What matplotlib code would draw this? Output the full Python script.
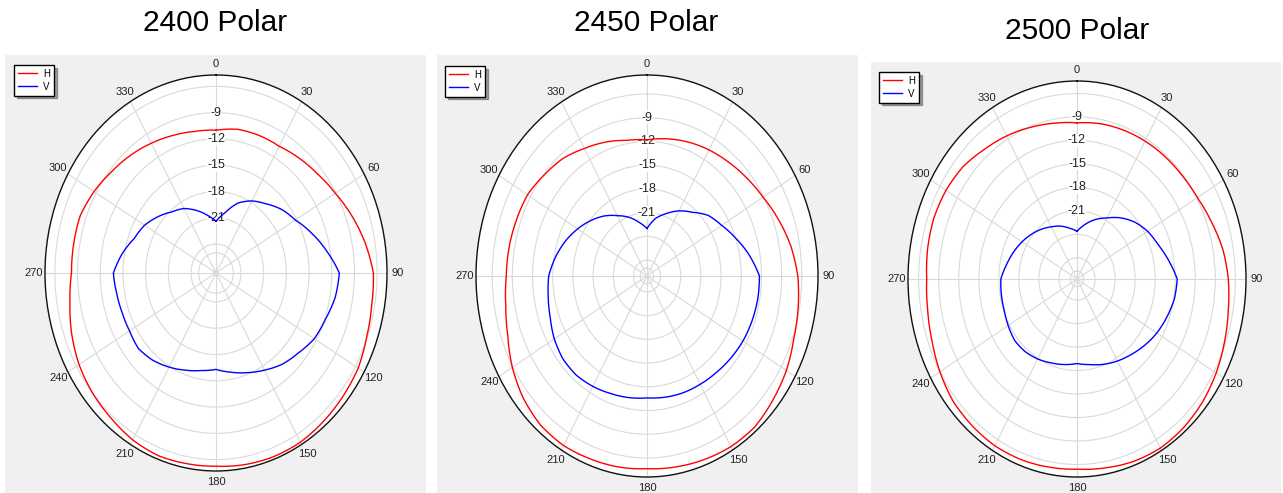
import numpy as np
import matplotlib
matplotlib.use("Agg")
import matplotlib.pyplot as plt
from matplotlib.patches import Rectangle

plt.rcParams['font.family'] = ['Liberation Sans', 'DejaVu Sans']

# angles in degrees, 0 at top, clockwise
angles = list(range(0, 360, 10))
titles = ["2400 Polar", "2450 Polar", "2500 Polar"]

# gain in dB
h_2400 = [-11.0, -10.65, -10.6, -10.6, -10.2, -9.75, -9.1, -8.2, -7.3, -6.5,
          -6.4, -6.1, -5.6, -5.4, -5.2, -5.0, -5.0, -5.1, -5.25, -5.2,
          -5.1, -5.3, -5.7, -6.0, -6.4, -7.0, -7.7, -8.2, -8.2, -8.2,
          -8.7, -9.3, -9.75, -10.2, -10.6, -10.9]
v_2400 = [-21.4, -20.3, -18.8, -17.8, -17.0, -16.0, -15.2, -13.9, -12.5, -11.0,
          -11.3, -11.9, -12.3, -13.1, -13.7, -14.5, -15.2, -15.8, -16.3, -16.0,
          -15.5, -14.9, -14.3, -13.9, -14.1, -14.1, -13.97, -13.74, -14.7, -15.8,
          -16.4, -17.3, -18.2, -18.8, -19.7, -20.6]

h_2450 = [-11.8, -11.4, -11.0, -10.6, -10.2, -9.7, -9.1, -8.2, -7.3, -6.6,
          -6.2, -5.8, -5.1, -4.6, -4.1, -4.1, -4.3, -4.5, -4.65, -4.5,
          -4.4, -4.25, -4.4, -5.0, -5.9, -7.0, -7.7, -8.1, -8.2, -8.35,
          -8.5, -9.1, -9.6, -10.4, -11.0, -11.6]
v_2450 = [-23.0, -21.6, -20.6, -19.5, -18.5, -17.1, -16.2, -15.0, -13.6, -12.3,
          -12.3, -12.4, -12.55, -12.8, -13.05, -13.2, -13.3, -13.45, -13.6, -13.4,
          -13.2, -12.9, -12.65, -12.7, -13.1, -13.7, -14.1, -14.4, -15.2, -16.1,
          -17.1, -18.1, -19.1, -20.2, -21.1, -22.1]

h_2500 = [-9.75, -9.55, -9.45, -9.35, -9.25, -9.15, -8.9, -8.3, -7.55, -7.05,
          -6.7, -6.2, -5.65, -5.2, -4.9, -4.75, -4.9, -5.2, -5.4, -5.3,
          -5.15, -5.1, -5.25, -5.45, -6.0, -6.6, -7.0, -7.2, -7.0, -6.9,
          -7.05, -7.4, -8.1, -8.6, -9.1, -9.5]
v_2500 = [-23.6, -22.6, -21.6, -20.7, -19.5, -18.4, -17.5, -16.8, -15.8, -14.7,
          -14.9, -15.4, -15.9, -16.5, -17.1, -17.6, -18.1, -18.6, -18.9, -18.6,
          -18.3, -17.9, -17.6, -17.5, -17.8, -18.1, -18.2, -18.3, -19.0, -19.6,
          -20.2, -20.8, -21.4, -22.0, -22.5, -23.1]

h_series = [h_2400, h_2450, h_2500]
v_series = [v_2400, v_2450, v_2500]

r_limits = [(-27.3, -4.7), (-29.0, -3.6), (-29.7, -4.4)]
rings = [[-27, -25, -24, -21, -18, -15, -12, -9, -6],
         [-28, -27, -24, -21, -18, -15, -12, -9, -6],
         [-28.7, -27, -24, -21, -18, -15, -12, -9, -6]]
r_labels = [-9, -12, -15, -18, -21]
theta_ticks = list(range(0, 360, 30))

# layout in pixels (x0, y0 from top, x1, y1)
W, H = 1283, 493
panel_boxes = [(5, 55, 426, 493), (437, 55, 858, 493), (871, 62, 1281, 493)]
axes_boxes = [(45, 75, 387, 471), (476, 75, 818, 477), (908, 81, 1246, 477)]
title_pos = [(215, 23), (646, 23), (1077, 31)]
legend_pos = [(14, 65), (445, 66), (879, 72)]

fig = plt.figure(figsize=(W / 100, H / 100), dpi=100)

for (x0, y0, x1, y1) in panel_boxes:
    fig.patches.append(Rectangle((x0 / W, 1 - y1 / H), (x1 - x0) / W, (y1 - y0) / H,
                                 transform=fig.transFigure, facecolor='#f0f0f0',
                                 edgecolor='none', zorder=-10))

for i in range(3):
    x0, y0, x1, y1 = axes_boxes[i]
    ax = fig.add_axes([x0 / W, 1 - y1 / H, (x1 - x0) / W, (y1 - y0) / H],
                      projection='polar')
    ax.set_aspect('auto')
    ax.set_theta_zero_location('N')
    ax.set_theta_direction(-1)

    # close the loop at 360 deg
    th = np.radians(angles + [360])
    lh, = ax.plot(th, h_series[i] + [h_series[i][0]], color='#ff0000', lw=1.0,
                  label='H', zorder=2.5)
    lv, = ax.plot(th, v_series[i] + [v_series[i][0]], color='#0000ff', lw=1.0,
                  label='V', zorder=2.5)
    # let the polar transform draw each segment as a curve, not a chord
    for ln in (lh, lv):
        ln.get_path()._interpolation_steps = 12

    ax.set_ylim(*r_limits[i])
    ax.set_yticks(rings[i])
    ax.set_yticklabels([])
    ax.set_xticks(np.radians(theta_ticks))
    ax.set_xticklabels([str(t) for t in theta_ticks], fontsize=8, color='#222222')
    ax.tick_params(axis='x', pad=-2.5)
    ax.grid(True, color='#d9d9d9', lw=0.8)
    ax.spines['polar'].set_color('#111111')
    ax.spines['polar'].set_linewidth(1.0)
    ax.set_facecolor('white')

    for v in r_labels:
        ax.text(0, v, str(v), ha='center', va='center', fontsize=9, color='#222222',
                bbox=dict(facecolor='white', edgecolor='none', pad=0.3), zorder=1.8)

    lx, ly = legend_pos[i]
    leg = ax.legend(loc='upper left', bbox_to_anchor=(lx / W, 1 - ly / H),
                    bbox_transform=fig.transFigure, borderaxespad=0, fontsize=7,
                    fancybox=False, shadow=True, framealpha=1, edgecolor='black',
                    handlelength=2.0, handletextpad=0.6, borderpad=0.4,
                    labelspacing=0.3)
    leg.get_frame().set_linewidth(1.0)

    tx, ty = title_pos[i]
    fig.text(tx / W, 1 - ty / H, titles[i], ha='center', va='center', fontsize=21.5,
             color='black')

fig.savefig('out.png', dpi=100)
